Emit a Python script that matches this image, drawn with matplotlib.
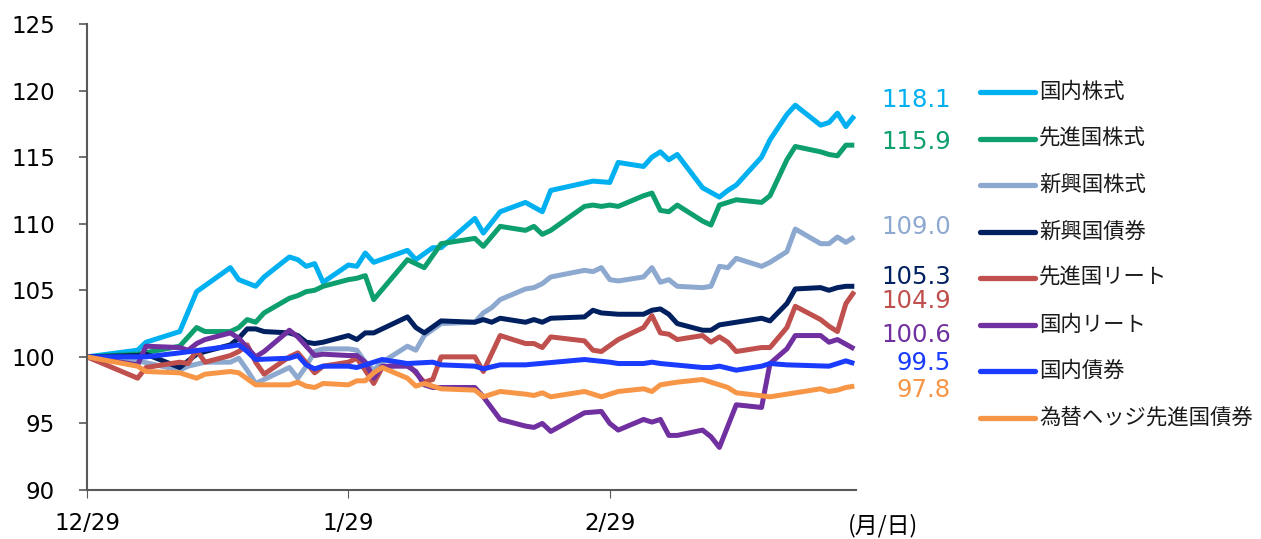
import matplotlib
matplotlib.use("Agg")
import matplotlib.pyplot as plt
from matplotlib.lines import Line2D
import pandas as pd

plt.rcParams['font.family'] = ['DejaVu Sans']

BASE = pd.Timestamp('2023-12-29')

names = ['国内株式', '先進国株式', '新興国株式', '新興国債券', '先進国リート', '国内リート', '国内債券', '為替ヘッジ先進国債券']
colors = ['#00B0F0', '#0E9F6E', '#8EA9D0', '#002060', '#C0504D', '#7030A0', '#1A3CFF', '#F79646']

# day offsets from 2023-12-29 and index values (start = 100)
jp_eq_d = [0, 6, 7, 11, 13, 17, 18, 20, 21, 24, 25, 26, 27, 28, 31, 32, 33, 34, 38, 39, 41, 42, 46, 47, 49, 52, 54, 55, 60, 62, 63, 66, 67, 68, 69, 70, 73, 75, 76, 77, 80, 81, 83, 84, 87, 88, 89, 90, 91]
jp_eq_v = [100, 100.5, 101.1, 101.9, 104.9, 106.7, 105.8, 105.3, 106.0, 107.5, 107.3, 106.8, 107.0, 105.6, 106.9, 106.8, 107.8, 107.1, 108.0, 107.3, 108.2, 108.2, 110.4, 109.3, 110.9, 111.6, 110.9, 112.5, 113.2, 113.1, 114.6, 114.3, 115.0, 115.4, 114.8, 115.2, 112.7, 112.0, 112.5, 112.9, 115.0, 116.3, 118.2, 118.9, 117.4, 117.6, 118.3, 117.3, 118.1]

dev_eq_d = [0, 6, 11, 13, 14, 17, 18, 19, 20, 21, 24, 25, 26, 27, 28, 31, 32, 33, 34, 38, 40, 42, 46, 47, 49, 52, 53, 54, 55, 59, 60, 61, 62, 63, 66, 67, 68, 69, 70, 73, 74, 75, 77, 80, 81, 83, 84, 87, 88, 89, 90, 91]
dev_eq_v = [100, 100.2, 100.8, 102.2, 101.9, 101.9, 102.2, 102.8, 102.6, 103.3, 104.4, 104.6, 104.9, 105.0, 105.3, 105.8, 105.9, 106.1, 104.3, 107.3, 106.7, 108.5, 108.9, 108.3, 109.8, 109.5, 109.8, 109.2, 109.5, 111.3, 111.4, 111.3, 111.4, 111.3, 112.1, 112.3, 111.0, 110.9, 111.4, 110.2, 109.9, 111.4, 111.8, 111.6, 112.1, 114.8, 115.8, 115.4, 115.2, 115.1, 115.9, 115.9]

em_eq_d = [0, 6, 11, 12, 14, 17, 18, 19, 20, 21, 24, 25, 26, 27, 28, 31, 32, 33, 34, 35, 38, 39, 40, 42, 46, 47, 48, 49, 52, 53, 54, 55, 59, 60, 61, 62, 63, 66, 67, 68, 69, 70, 73, 74, 75, 76, 77, 80, 81, 83, 84, 87, 88, 89, 90, 91]
em_eq_v = [100, 99.7, 99.0, 99.3, 99.6, 99.6, 99.9, 99.0, 98.0, 98.3, 99.2, 98.4, 99.3, 100.4, 100.6, 100.6, 100.5, 99.6, 99.0, 99.6, 100.8, 100.5, 101.6, 102.5, 102.6, 103.3, 103.7, 104.3, 105.1, 105.2, 105.5, 106.0, 106.5, 106.4, 106.7, 105.8, 105.7, 106.0, 106.7, 105.6, 105.8, 105.3, 105.2, 105.3, 106.8, 106.7, 107.4, 106.8, 107.1, 107.9, 109.6, 108.5, 108.5, 109.0, 108.6, 109.0]

em_bd_d = [0, 6, 7, 11, 13, 14, 17, 18, 19, 20, 21, 24, 25, 26, 27, 28, 31, 32, 33, 34, 38, 39, 40, 42, 46, 47, 48, 49, 52, 53, 54, 55, 59, 60, 61, 63, 66, 67, 68, 69, 70, 73, 74, 75, 77, 80, 81, 83, 84, 87, 88, 89, 90, 91]
em_bd_v = [100, 100.1, 100.2, 99.2, 100.2, 100.4, 100.9, 101.4, 102.1, 102.1, 101.9, 101.8, 101.6, 101.1, 101.0, 101.1, 101.6, 101.3, 101.8, 101.8, 103.0, 102.2, 101.8, 102.7, 102.6, 102.8, 102.6, 102.9, 102.6, 102.8, 102.6, 102.9, 103.0, 103.5, 103.3, 103.2, 103.2, 103.5, 103.6, 103.2, 102.5, 102.0, 102.0, 102.4, 102.6, 102.9, 102.7, 104.0, 105.1, 105.2, 105.0, 105.2, 105.3, 105.3]

dev_reit_d = [0, 6, 7, 11, 12, 13, 14, 17, 18, 19, 20, 21, 24, 25, 27, 28, 31, 32, 33, 34, 35, 38, 39, 40, 41, 42, 46, 47, 49, 52, 53, 54, 55, 59, 60, 61, 63, 66, 67, 68, 69, 70, 73, 74, 75, 76, 77, 80, 81, 83, 84, 87, 88, 89, 90, 91]
dev_reit_v = [100, 98.4, 99.2, 99.6, 99.5, 100.5, 99.6, 100.1, 100.4, 100.9, 99.6, 98.7, 100.0, 100.3, 98.8, 99.3, 99.6, 99.9, 99.0, 98.0, 99.2, 99.5, 98.8, 98.1, 98.3, 100.0, 100.0, 98.9, 101.6, 101.0, 101.0, 100.7, 101.5, 101.2, 100.5, 100.4, 101.3, 102.2, 103.1, 101.8, 101.7, 101.3, 101.6, 101.1, 101.5, 101.1, 100.4, 100.7, 100.7, 102.2, 103.8, 102.8, 102.3, 101.9, 104.0, 104.9]

jp_reit_d = [0, 6, 7, 11, 12, 13, 14, 17, 18, 20, 21, 24, 25, 26, 27, 28, 31, 32, 33, 34, 35, 38, 39, 40, 41, 46, 47, 49, 52, 53, 54, 55, 59, 60, 61, 62, 63, 66, 67, 68, 69, 70, 73, 74, 75, 77, 80, 81, 83, 84, 87, 88, 89, 91]
jp_reit_v = [100, 99.4, 100.8, 100.7, 100.5, 101.0, 101.3, 101.8, 101.4, 100.0, 100.4, 102.0, 101.5, 100.8, 100.1, 100.2, 100.1, 100.1, 99.6, 98.4, 99.3, 99.3, 98.9, 97.9, 97.7, 97.7, 97.0, 95.3, 94.8, 94.7, 95.0, 94.4, 95.8, 95.85, 95.9, 95.0, 94.5, 95.3, 95.1, 95.3, 94.1, 94.1, 94.5, 94.0, 93.2, 96.4, 96.2, 99.5, 100.6, 101.6, 101.6, 101.1, 101.3, 100.6]

jp_bd_d = [0, 6, 7, 11, 17, 18, 19, 20, 24, 25, 26, 27, 28, 31, 32, 33, 35, 38, 41, 42, 46, 47, 49, 52, 59, 62, 63, 66, 67, 68, 73, 74, 75, 77, 80, 81, 83, 88, 90, 91]
jp_bd_v = [100, 100.0, 100.0, 100.3, 100.8, 100.9, 100.4, 99.8, 99.9, 100.1, 99.4, 99.1, 99.3, 99.3, 99.2, 99.4, 99.8, 99.5, 99.6, 99.4, 99.3, 99.1, 99.4, 99.4, 99.8, 99.6, 99.5, 99.5, 99.6, 99.5, 99.2, 99.2, 99.3, 99.0, 99.3, 99.5, 99.4, 99.3, 99.7, 99.5]

hdg_bd_d = [0, 6, 7, 11, 13, 14, 17, 18, 20, 24, 25, 26, 27, 28, 31, 32, 33, 34, 35, 38, 39, 40, 41, 42, 46, 47, 49, 52, 53, 54, 55, 59, 60, 61, 62, 63, 66, 67, 68, 69, 70, 73, 74, 76, 77, 81, 83, 87, 88, 89, 90, 91]
hdg_bd_v = [100, 99.3, 98.9, 98.8, 98.4, 98.7, 98.9, 98.8, 97.9, 97.9, 98.1, 97.8, 97.7, 98.0, 97.9, 98.2, 98.2, 98.8, 99.2, 98.4, 97.8, 98.0, 97.8, 97.6, 97.5, 97.0, 97.4, 97.2, 97.1, 97.3, 97.0, 97.4, 97.2, 97.0, 97.2, 97.4, 97.6, 97.4, 97.9, 98.0, 98.1, 98.3, 98.1, 97.7, 97.3, 97.0, 97.2, 97.6, 97.4, 97.5, 97.7, 97.8]

series_d = [jp_eq_d, dev_eq_d, em_eq_d, em_bd_d, dev_reit_d, jp_reit_d, jp_bd_d, hdg_bd_d]
series_v = [jp_eq_v, dev_eq_v, em_eq_v, em_bd_v, dev_reit_v, jp_reit_v, jp_bd_v, hdg_bd_v]

tick_days = [0, 31, 62]
tick_labels = ['12/29', '1/29', '2/29']
yticks = [90, 95, 100, 105, 110, 115, 120, 125]

W, H = 1261, 539
fig = plt.figure(figsize=(W / 100, H / 100), dpi=100)
ax = fig.add_axes([87 / W, 1 - 490 / H, (856 - 87) / W, (490 - 24) / H])

for d, v, c in zip(series_d, series_v, colors):
    dates = BASE + pd.to_timedelta(d, unit='D')
    ax.plot(dates, v, color=c, lw=3.6, solid_joinstyle='round', solid_capstyle='butt')

ax.set_xlim(BASE, BASE + pd.Timedelta(days=91.2))
ax.set_ylim(90, 125)
ax.set_yticks(yticks)
ax.set_xticks([BASE + pd.Timedelta(days=t) for t in tick_days])
ax.set_xticklabels(tick_labels)

for s in ['top', 'right']:
    ax.spines[s].set_visible(False)
for s in ['left', 'bottom']:
    ax.spines[s].set_color('#595959')
    ax.spines[s].set_linewidth(1.5)
ax.tick_params(axis='y', length=6, width=1.2, color='#595959', pad=17, labelsize=16.5, labelcolor='#000000')
ax.tick_params(axis='x', length=6, width=0.8, color='#595959', pad=10, labelsize=16.5, labelcolor='#000000')

fig.text(883 / W, 1 - 526 / H, '(月/日)', ha='center', va='center', fontsize=16.5,
         family=['Noto Sans CJK JP', 'DejaVu Sans'])

# end value labels
label_y = [100, 142, 227, 277, 301, 335, 363, 390]
for v, c, y in zip(series_v, colors, label_y):
    fig.text(951 / W, 1 - y / H, f'{v[-1]:.1f}', color=c, ha='right', va='center', fontsize=17.6)

# legend
leg_y = [92, 139, 185, 232, 278, 325, 371, 418]
for n, c, y in zip(names, colors, leg_y):
    fig.add_artist(Line2D([980 / W, 1035 / W], [1 - y / H, 1 - y / H], color=c, lw=3.8,
                          solid_capstyle='round', transform=fig.transFigure))
    fig.text(1039 / W, 1 - y / H, n, ha='left', va='center', fontsize=15.4, color='#1a1a1a',
             family=['Noto Sans CJK JP', 'DejaVu Sans'])

fig.savefig('out.png', dpi=100)
